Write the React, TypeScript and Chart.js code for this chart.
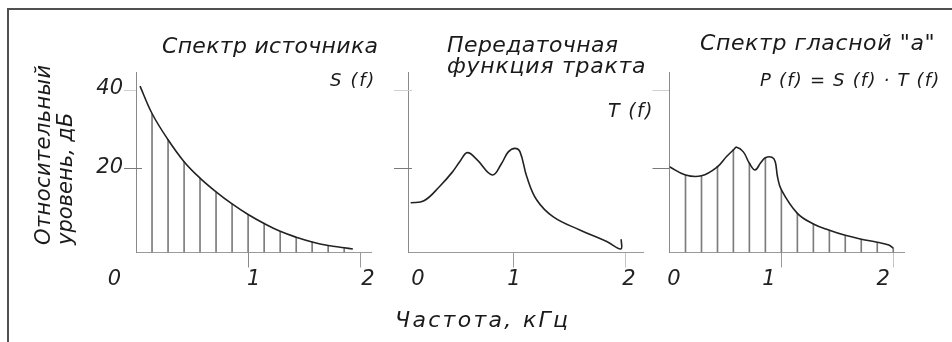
import React, { useEffect, useRef } from "react";
import { Chart, registerables } from "chart.js";
Chart.register(...registerables);

const W = 952;
const H = 342;

// ---- data ----
const xTickValues = [0, 1, 2];
const xTickLabels = ["0", "1", "2"];
const yTickValues = [20, 40];
const yTickLabels = ["20", "40"];

// Source spectrum S(f)
const sourceFreq = [0.036, 0.143, 0.286, 0.429, 0.571, 0.714, 0.857, 1.0, 1.143, 1.286, 1.429, 1.571, 1.714, 1.857, 1.934];
const sourceLevel = [41.0, 34.0, 27.3, 21.7, 17.5, 14.0, 10.9, 8.2, 5.9, 3.9, 2.4, 1.2, 0.3, -0.3, -0.6];

// Tract transfer function T(f)
const tractFreq = [0.081, 0.2, 0.344, 0.45, 0.523, 0.588, 0.672, 0.812, 0.896, 0.955, 1.015, 1.06, 1.12, 1.21, 1.358, 1.6, 1.836, 1.962, 1.966];
const tractLevel = [11.2, 11.7, 15.5, 18.9, 21.8, 24.0, 22.3, 18.3, 21.3, 24.2, 25.1, 24.2, 17.9, 11.9, 7.6, 4.2, 1.3, -0.6, 1.9];

// Vowel spectrum P(f)
const vowelFreq = [0, 0.143, 0.286, 0.429, 0.51, 0.571, 0.6, 0.66, 0.714, 0.765, 0.815, 0.857, 0.915, 0.945, 0.965, 1.0, 1.143, 1.286, 1.429, 1.571, 1.714, 1.857, 1.96, 2.0];
const vowelLevel = [20.4, 18.3, 18.1, 20.4, 23.0, 24.7, 25.4, 24.2, 21.3, 19.6, 21.4, 22.7, 22.8, 21.7, 17.9, 14.5, 8.5, 5.8, 4.2, 2.9, 1.9, 1.1, 0.4, -0.4];

const Y_MIN = -1.5;
const Y_MAX = 44.6;

const TITLE_FAMILY = '"DejaVu Sans", sans-serif';
const AXW = 30;
const AXH = 30;

type PanelCfg = {
  freq: number[];
  level: number[];
  hatch: boolean;
  left: number;
  right: number;
  top: number;
  bottom: number;
  xMin: number;
  xMax: number;
  yTickLen: number;
  yInner: number[];
  yLabels: boolean;
  xLabelDx: number[];
  xTickColors: string[];
};

const panels: PanelCfg[] = [
  {
    freq: sourceFreq, level: sourceLevel, hatch: true,
    left: 136, right: 371, top: 72, bottom: 252.5, xMin: 0, xMax: 2.096,
    yTickLen: 12, yInner: [6, 0], yLabels: true, xLabelDx: [-21.5, 5.6, 7.7],
    xTickColors: ["rgba(0,0,0,0)", "#8a8a8a", "#9a9a9a"],
  },
  {
    freq: tractFreq, level: tractLevel, hatch: false,
    left: 408, right: 643, top: 72, bottom: 252.5, xMin: 0.057, xMax: 2.161,
    yTickLen: 14, yInner: [4, 4], yLabels: false, xLabelDx: [16.4, 0.5, 4],
    xTickColors: ["rgba(0,0,0,0)", "#9a9a9a", "#c4c4c4"],
  },
  {
    freq: vowelFreq, level: vowelLevel, hatch: true,
    left: 669.5, right: 904, top: 72, bottom: 252.5, xMin: 0, xMax: 2.096,
    yTickLen: 17, yInner: [0, 0], yLabels: false, xLabelDx: [4.5, -12.5, -10],
    xTickColors: ["rgba(0,0,0,0)", "#9a9a9a", "#c4c4c4"],
  },
];

function isHatch(f: number) {
  return f > 0.01 && Math.abs(f * 7 - Math.round(f * 7)) < 0.02;
}

function Panel({ cfg }: { cfg: PanelCfg }) {
  const ref = useRef<HTMLCanvasElement>(null);
  useEffect(() => {
    const canvas = ref.current;
    if (!canvas) return;
    const curve = cfg.freq.map((f, i) => ({ x: f, y: cfg.level[i] }));
    const hatchPts = cfg.freq
      .map((f, i) => ({ x: f, y: cfg.level[i] }))
      .filter((p) => isHatch(p.x));

    const labelPlugin = {
      id: "labels",
      afterDraw(chart: any) {
        const ctx = chart.ctx as CanvasRenderingContext2D;
        const xs = chart.scales.x;
        const ys = chart.scales.y;
        const area = chart.chartArea;
        ctx.save();
        ctx.lineWidth = 1;
        yTickValues.forEach((v, i) => {
          const len = cfg.yInner[i];
          if (!len) return;
          const py = Math.round(ys.getPixelForValue(v)) + 0.5;
          ctx.strokeStyle = v === 40 ? "#d0d0d0" : "#7a7a7a";
          ctx.beginPath();
          ctx.moveTo(area.left, py);
          ctx.lineTo(area.left + len, py);
          ctx.stroke();
        });
        ctx.fillStyle = "#222";
        ctx.font = `italic 200 21px ${TITLE_FAMILY}`;
        ctx.textAlign = "center";
        ctx.textBaseline = "middle";
        xTickValues.forEach((v, i) => {
          ctx.fillText(xTickLabels[i], xs.getPixelForValue(v) + cfg.xLabelDx[i], 280);
        });
        if (cfg.yLabels) {
          ctx.textAlign = "right";
          yTickValues.forEach((v, i) => {
            ctx.fillText(yTickLabels[i], area.left - 13, ys.getPixelForValue(v) - 1);
          });
        }
        ctx.restore();
      },
    };

    const datasets: any[] = [
      {
        type: "line",
        data: curve,
        borderColor: "#222",
        borderWidth: 1.6,
        pointRadius: 0,
        tension: 0.4,
        fill: false,
        order: 0,
      },
    ];
    if (cfg.hatch) {
      datasets.push({
        type: "bar",
        data: hatchPts,
        base: Y_MIN,
        backgroundColor: "#7c7c7c",
        barThickness: 1,
        borderWidth: 0,
        order: 1,
      });
    }

    const chart = new Chart(canvas, {
      type: "line",
      data: { datasets },
      options: {
        responsive: false,
        animation: false,
        events: [],
        layout: {
          padding: {
            left: cfg.left - AXW,
            right: W - cfg.right,
            top: cfg.top,
            bottom: H - cfg.bottom - AXH,
          },
        },
        plugins: { legend: { display: false }, tooltip: { enabled: false } },
        scales: {
          x: {
            type: "linear",
            min: cfg.xMin,
            max: cfg.xMax,
            offset: false,
            afterBuildTicks: (s: any) => {
              s.ticks = xTickValues.map((v) => ({ value: v }));
            },
            afterFit: (s: any) => {
              s.height = AXH;
            },
            ticks: { display: false },
            grid: {
              offset: false,
              drawOnChartArea: false,
              drawTicks: true,
              tickLength: 15,
              lineWidth: 1,
              color: (c: any) => {
                const idx = xTickValues.indexOf(c.tick ? c.tick.value : -1);
                return idx >= 0 ? cfg.xTickColors[idx] : "rgba(0,0,0,0)";
              },
            },
            border: { display: true, color: "#9a9a9a", width: 1 },
          },
          y: {
            type: "linear",
            min: Y_MIN,
            max: Y_MAX,
            afterBuildTicks: (s: any) => {
              s.ticks = yTickValues.map((v) => ({ value: v }));
            },
            afterFit: (s: any) => {
              s.width = AXW;
            },
            ticks: { display: false },
            grid: {
              drawOnChartArea: false,
              drawTicks: true,
              tickLength: cfg.yTickLen,
              lineWidth: 1,
              color: (c: any) => (c.tick && c.tick.value === 40 ? "#d0d0d0" : "#7a7a7a"),
            },
            border: { display: true, color: "#8a8a8a", width: 1 },
          },
        },
      } as any,
      plugins: [labelPlugin],
    });
    return () => chart.destroy();
  }, [cfg]);
  return (
    <canvas
      ref={ref}
      width={W}
      height={H}
      style={{ position: "absolute", left: 0, top: 0, width: W, height: H }}
    />
  );
}

const textBase: React.CSSProperties = {
  position: "absolute",
  fontFamily: TITLE_FAMILY,
  fontStyle: "italic",
  fontWeight: 200,
  color: "#1a1a1a",
  whiteSpace: "nowrap",
  lineHeight: 1,
};

const rotated: React.CSSProperties = {
  ...textBase,
  fontSize: 21,
  lineHeight: "22px",
  transform: "rotate(-90deg)",
  transformOrigin: "left top",
};

export default function App() {
  return (
    <div
      style={{
        position: "fixed",
        left: 0,
        top: 0,
        width: W,
        height: H,
        overflow: "hidden",
        background: "#fff",
      }}
    >
      <div
        style={{
          position: "absolute",
          left: 7,
          top: 8,
          width: W,
          height: H,
          borderTop: "2px solid #505050",
          borderLeft: "2px solid #505050",
        }}
      />
      {panels.map((p, i) => (
        <Panel key={i} cfg={p} />
      ))}
      <div style={{ ...textBase, left: 162, top: 35, fontSize: 22, letterSpacing: 0.3 }}>Спектр источника</div>
      <div style={{ ...textBase, left: 330, top: 71, fontSize: 18, letterSpacing: 1.7 }}>S (f)</div>
      <div style={{ ...textBase, left: 447, top: 33.5, fontSize: 22, letterSpacing: 0.4 }}>Передаточная</div>
      <div style={{ ...textBase, left: 447, top: 54.5, fontSize: 22, letterSpacing: 0.75 }}>функция тракта</div>
      <div style={{ ...textBase, left: 608, top: 101, fontSize: 19, letterSpacing: 1.3 }}>T (f)</div>
      <div style={{ ...textBase, left: 700, top: 32.3, fontSize: 22, letterSpacing: 0.6 }}>Спектр гласной "а"</div>
      <div style={{ ...textBase, left: 760, top: 71, fontSize: 18, letterSpacing: 1.2 }}>P (f) = S (f) · T (f)</div>
      <div style={{ ...textBase, left: 395, top: 309, fontSize: 22, letterSpacing: 2.3 }}>Частота, кГц</div>
      <div style={{ ...rotated, left: 32, top: 245, letterSpacing: 0.4 }}>Относительный</div>
      <div style={{ ...rotated, left: 54, top: 245, letterSpacing: 0 }}>уровень, дБ</div>
    </div>
  );
}
